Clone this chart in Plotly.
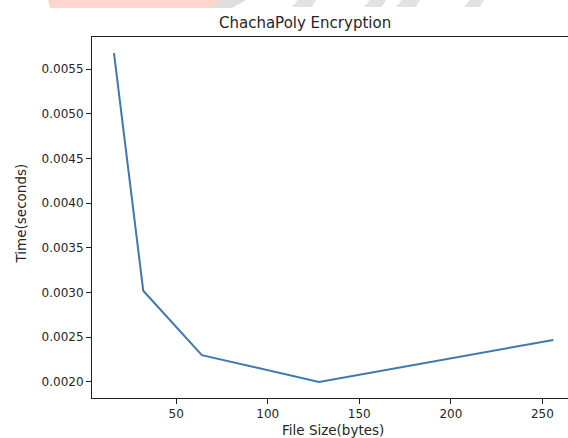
import plotly.graph_objects as go

file_sizes = [16, 32, 64, 128, 256]
times = [0.00568, 0.00302, 0.00230, 0.00200, 0.00247]
x_ticks = [50, 100, 150, 200, 250]
y_ticks = [0.0020, 0.0025, 0.0030, 0.0035, 0.0040, 0.0045, 0.0050, 0.0055]

W, H = 568, 438
L, R, T, B = 92, 0, 37, 40
PW, PH = W - L - R, H - T - B

def px(x):
    return (x - L) / PW

def py(y):
    return (H - B - y) / PH

fig = go.Figure()
fig.add_trace(go.Scatter(x=file_sizes, y=times, mode="lines",
                         line=dict(color="#3d78b3", width=2), showlegend=False))

font = dict(family="DejaVu Sans", size=12, color="#262626")
label_font = dict(family="DejaVu Sans", size=13.5, color="#262626")

fig.update_layout(
    width=W, height=H,
    margin=dict(l=L, r=R, t=T, b=B),
    plot_bgcolor="white", paper_bgcolor="white",
    font=font,
    xaxis=dict(range=[4, 264], tickvals=x_ticks, showgrid=False, zeroline=False,
               showline=True, linecolor="#222", linewidth=1, mirror=True,
               ticks="outside", ticklen=5, tickcolor="#222", tickfont=font),
    yaxis=dict(range=[0.001820, 0.005860], tickvals=y_ticks, tickformat=".4f",
               showgrid=False, zeroline=False, showline=True, linecolor="#222",
               linewidth=1, ticks="outside", ticklen=5, tickcolor="#222", tickfont=font),
    annotations=[
        dict(text="ChachaPoly Encryption", x=px(305), y=py(23), xref="paper", yref="paper",
             xanchor="center", yanchor="middle", showarrow=False,
             font=dict(family="DejaVu Sans", size=15, color="#262626")),
        dict(text="File Size(bytes)", x=px(333), y=py(430.5), xref="paper", yref="paper",
             xanchor="center", yanchor="middle", showarrow=False, font=label_font),
        dict(text="Time(seconds)", x=px(20), y=py(213.5), xref="paper", yref="paper",
             xanchor="center", yanchor="middle", showarrow=False, textangle=-90,
             font=label_font),
    ],
)

# faint watermark band at the very top of the picture
def path(points):
    s = "M " + " L ".join(f"{px(a)},{py(b)}" for a, b in points) + " Z"
    return s

fig.add_shape(type="path", xref="paper", yref="paper",
              path=path([(48, 0), (232, 0), (215, 8), (50, 8)]),
              fillcolor="#ffd6ce", line=dict(width=0), layer="above")
fig.add_shape(type="path", xref="paper", yref="paper",
              path=path([(222, 0), (246, 0), (232, 8), (210, 8)]),
              fillcolor="#dedede", line=dict(width=0), layer="above")
for a, b in [(292, 316), (364, 386), (396, 420), (464, 484)]:
    fig.add_shape(type="path", xref="paper", yref="paper",
                  path=path([(a + 6, 0), (b, 0), (b - 4, 7), (a, 7)]),
                  fillcolor="#e2e2e2", line=dict(width=0), layer="above")

fig.write_html("out.html", config={"displayModeBar": False},
               post_script="document.body.style.margin='0';")
